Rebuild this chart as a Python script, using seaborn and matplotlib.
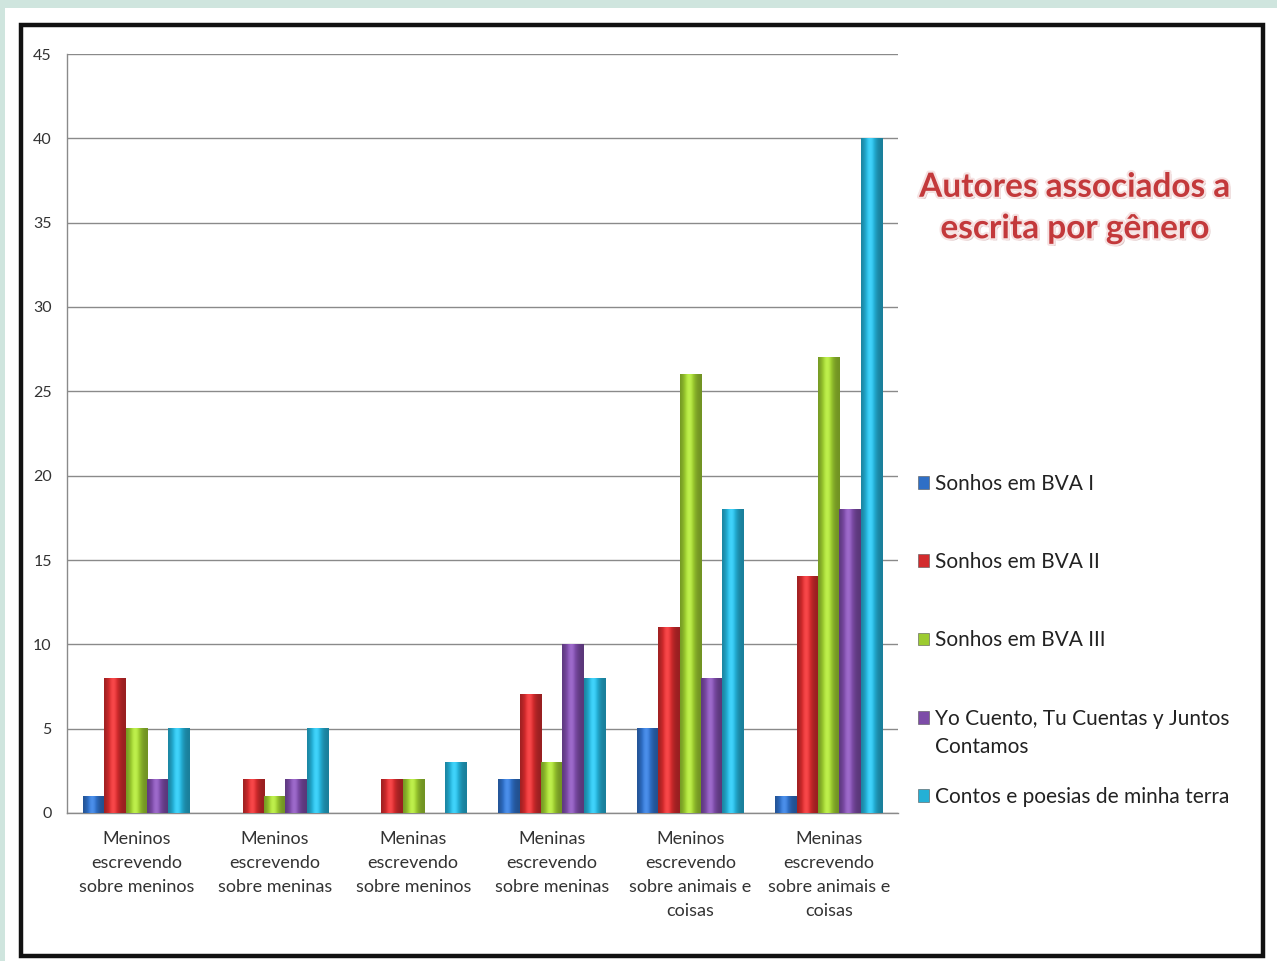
import numpy as np
import pandas as pd
import matplotlib
matplotlib.use("Agg")
import matplotlib.pyplot as plt
import matplotlib.patheffects as pe
from matplotlib.patches import Rectangle, Patch
from matplotlib.colors import to_rgb
import seaborn as sns

# dados
categorias = [
    "Meninos\nescrevendo\nsobre meninos",
    "Meninos\nescrevendo\nsobre meninas",
    "Meninas\nescrevendo\nsobre meninos",
    "Meninas\nescrevendo\nsobre meninas",
    "Meninos\nescrevendo\nsobre animais e\ncoisas",
    "Meninas\nescrevendo\nsobre animais e\ncoisas",
]
series = [
    "Sonhos em BVA I",
    "Sonhos em BVA II",
    "Sonhos em BVA III",
    "Yo Cuento, Tu Cuentas y Juntos Contamos",
    "Contos e poesias de minha terra",
]
sonhos_1 = [1, 0, 0, 2, 5, 1]
sonhos_2 = [8, 2, 2, 7, 11, 14]
sonhos_3 = [5, 1, 2, 3, 26, 27]
yo_cuento = [2, 2, 0, 10, 8, 18]
contos = [5, 5, 3, 8, 18, 40]
y_ticks = list(range(0, 46, 5))

cores = ["#2f6fc6", "#d32b2d", "#9ccb30", "#7d4ca8", "#24b0d6"]

valores = [sonhos_1, sonhos_2, sonhos_3, yo_cuento, contos]
df = pd.DataFrame(
    [(c, s, v) for s, vals in zip(series, valores) for c, v in zip(categorias, vals)],
    columns=["categoria", "serie", "valor"],
)

sns.set_style("white")
plt.rcParams["font.family"] = ["Lato", "DejaVu Sans"]

fig = plt.figure(figsize=(12.77, 9.61), dpi=100)
fig.patch.set_facecolor("#cfe5de")
fig.patches.append(Rectangle((5 / 1277, 0), 1, 1 - 8 / 961, transform=fig.transFigure,
                             facecolor="white", edgecolor="none", zorder=-10))
fig.patches.append(Rectangle((21 / 1277, 5 / 961), 1242 / 1277, 931 / 961,
                             transform=fig.transFigure, fill=False,
                             edgecolor="#111111", lw=3.2, zorder=-5))

ax = fig.add_axes([67 / 1277, 148 / 961, 831 / 1277, 759 / 961])
ax.set_facecolor("none")

sns.barplot(data=df, x="categoria", y="valor", hue="serie", order=categorias,
            hue_order=series, palette=cores, width=0.77, ax=ax, legend=False,
            saturation=1, edgecolor="none", zorder=2)


def sombra(cor):
    rgb = np.array(to_rgb(cor))
    t = np.linspace(0, 1, 64)
    b = 0.72 + 0.45 * np.exp(-((t - 0.42) / 0.27) ** 2)
    arr = np.clip(rgb[None, :] * b[:, None], 0, 1)
    arr = arr + (1 - arr) * np.clip(b - 1, 0, 1)[:, None] * 0.6
    return arr[None, :, :]


# efeito cilíndrico nas barras
for cont, cor in zip(ax.containers, cores):
    img = sombra(cor)
    for bar in cont:
        h = bar.get_height()
        if h <= 0:
            continue
        x0, w = bar.get_x(), bar.get_width()
        ax.imshow(img, extent=[x0, x0 + w, 0, h], aspect="auto", clip_path=bar,
                  interpolation="bilinear", zorder=3)

ax.set_xlim(-0.5, len(categorias) - 0.5)
ax.set_ylim(0, 45)
ax.set_yticks(y_ticks)
ax.set_xlabel("")
ax.set_ylabel("")

ax.yaxis.grid(True, color="#8a8a8a", lw=1)
ax.set_axisbelow(True)
for s in ["top", "right"]:
    ax.spines[s].set_visible(False)
for s in ["left", "bottom"]:
    ax.spines[s].set_color("#8a8a8a")
    ax.spines[s].set_linewidth(1)

ax.tick_params(axis="y", length=5, color="#8a8a8a", labelsize=11.5, labelcolor="#333333", pad=6)
ax.tick_params(axis="x", which="major", length=0, labelsize=13, labelcolor="#333333", pad=13)
ax.set_xticks(np.arange(-0.5, len(categorias)), minor=True)
ax.tick_params(axis="x", which="minor", length=6, color="#8a8a8a")
for lbl in ax.get_xticklabels():
    lbl.set_linespacing(1.62)
    lbl.set_va("top")

# legenda: o rótulo longo quebra em duas linhas, a segunda vai como texto logo abaixo
handles = [Patch(facecolor=c, edgecolor="#555555", lw=0.4) for c in cores]
labels = [s.replace(" Contamos", "") for s in series]
leg = fig.legend(handles, labels, loc="upper left", bbox_to_anchor=(899 / 1277, 1 - 455 / 961),
                 frameon=False, fontsize=15, labelspacing=2.8, handlelength=0.55,
                 handleheight=0.55, handletextpad=0.3, labelcolor="#222222")

fig.canvas.draw()
txt = leg.get_texts()[3]
bb = txt.get_window_extent()
fig.text(bb.x0 / 1277, (bb.y0 - 28) / 961, "Contamos", fontsize=15, color="#222222",
         ha="left", va="bottom")

fig.text(1075 / 1277, 1 - 208 / 961, "Autores associados a\nescrita por gênero",
         ha="center", va="center", fontsize=24, fontweight="bold", color="#c3393b",
         linespacing=1.52,
         path_effects=[pe.withSimplePatchShadow(offset=(1.5, -1.5), shadow_rgbFace="#b08080", alpha=0.5),
                       pe.withStroke(linewidth=3, foreground="#f6e2e2")])

fig.savefig("out.png", dpi=100, facecolor=fig.get_facecolor())
